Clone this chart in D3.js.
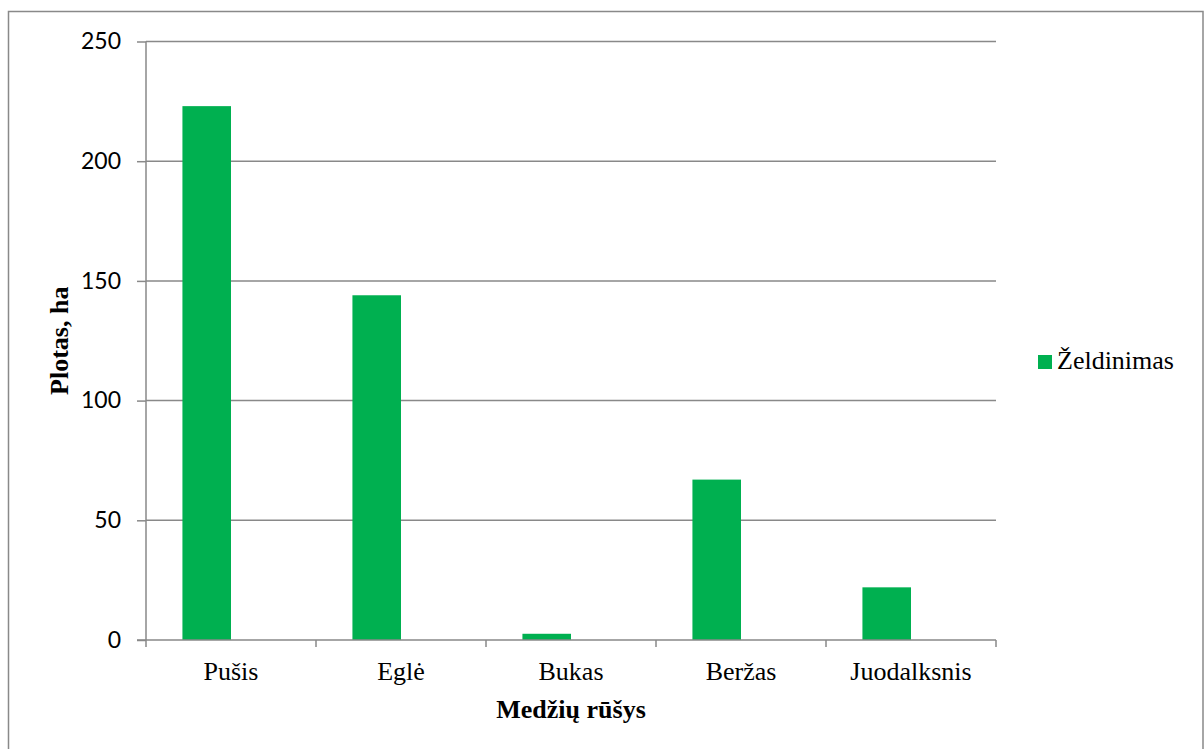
<!DOCTYPE html>
<html>
<head>
<meta charset="utf-8">
<script src="https://cdn.jsdelivr.net/npm/d3@7"></script>
<style>
  body { margin: 0; background: #fff; }
  svg { display: block; }
</style>
</head>
<body>
<div id="chart"></div>
<script>
// data
var categories = ["Pušis", "Eglė", "Bukas", "Beržas", "Juodalksnis"];
var values = [223, 144, 2.6, 67, 22];
var yTicks = [0, 50, 100, 150, 200, 250];
var seriesName = "Želdinimas";

var W = 1204, H = 749;
var margin = {top: 41.5, left: 146, right: 208, bottom: 109};
var width = W - margin.left - margin.right,   // 850
    height = H - margin.top - margin.bottom;  // 598.5

var gray = "#898989";
var green = "#00B050";

var svg = d3.select("#chart").append("svg")
  .attr("width", W)
  .attr("height", H);

// outer chart border
svg.append("rect")
  .attr("x", 8.5).attr("y", 11.5)
  .attr("width", 1194.5).attr("height", 745)
  .attr("fill", "none")
  .attr("stroke", gray)
  .attr("stroke-width", 1.5);

var g = svg.append("g")
  .attr("transform", "translate(" + margin.left + "," + margin.top + ")");

var x = d3.scaleBand().domain(categories).range([0, width]);
var y = d3.scaleLinear().domain([0, 250]).range([height, 0]);

// gridlines
g.append("g")
  .selectAll("line")
  .data(yTicks.filter(d => d > 0))
  .join("line")
  .attr("x1", 0).attr("x2", width)
  .attr("y1", d => y(d)).attr("y2", d => y(d))
  .attr("stroke", gray)
  .attr("stroke-width", 1.5);

// bars (clustered layout: 2 slots, gap 150%)
var slot = x.bandwidth() / 3.5;
g.append("g")
  .selectAll("rect")
  .data(categories.map((c, i) => ({cat: c, v: values[i]})))
  .join("rect")
  .attr("x", d => x(d.cat) + slot * 0.75)
  .attr("y", d => y(d.v))
  .attr("width", slot)
  .attr("height", d => height - y(d.v))
  .attr("fill", green);

// y axis
var yAxis = g.append("g")
  .call(d3.axisLeft(y).tickValues(yTicks).tickSize(9).tickPadding(16));
yAxis.select(".domain").attr("stroke", gray).attr("stroke-width", 1.5).attr("d", "M0," + height + "V0");
yAxis.selectAll(".tick line").attr("stroke", gray).attr("stroke-width", 1.5);
yAxis.selectAll(".tick text")
  .attr("fill", "#000")
  .style("font-family", "Lato, 'Open Sans', sans-serif")
  .style("font-size", "23px");

// x axis
var xTickPos = categories.map(c => x(c)).concat([width]);
var xAxis = g.append("g").attr("transform", "translate(0," + height + ")");
xAxis.append("line")
  .attr("x1", -9).attr("x2", width)
  .attr("stroke", gray).attr("stroke-width", 1.5);
xAxis.selectAll("line.tk")
  .data(xTickPos)
  .join("line")
  .attr("class", "tk")
  .attr("x1", d => d).attr("x2", d => d)
  .attr("y1", 0).attr("y2", 7)
  .attr("stroke", gray).attr("stroke-width", 1.5);
xAxis.selectAll("text")
  .data(categories)
  .join("text")
  .attr("x", d => x(d) + x.bandwidth() / 2)
  .attr("y", 40)
  .attr("text-anchor", "middle")
  .style("font-family", "'Liberation Serif', 'Times New Roman', serif")
  .style("font-size", "26px")
  .text(d => d);

// axis titles
g.append("text")
  .attr("x", width / 2)
  .attr("y", height + 78)
  .attr("text-anchor", "middle")
  .style("font-family", "'Liberation Serif', 'Times New Roman', serif")
  .style("font-size", "26px")
  .style("font-weight", "bold")
  .text("Medžių rūšys");

g.append("text")
  .attr("transform", "translate(" + (68 - margin.left) + "," + (height / 2) + ") rotate(-90)")
  .attr("text-anchor", "middle")
  .style("font-family", "'Liberation Serif', 'Times New Roman', serif")
  .style("font-size", "26px")
  .style("font-weight", "bold")
  .text("Plotas, ha");

// legend
var lg = svg.append("g").attr("transform", "translate(1038,355)");
lg.append("rect")
  .attr("width", 14).attr("height", 14)
  .attr("fill", green);
lg.append("text")
  .attr("x", 19).attr("y", 14)
  .style("font-family", "'Liberation Serif', 'Times New Roman', serif")
  .style("font-size", "26px")
  .text(seriesName);
</script>
</body>
</html>
